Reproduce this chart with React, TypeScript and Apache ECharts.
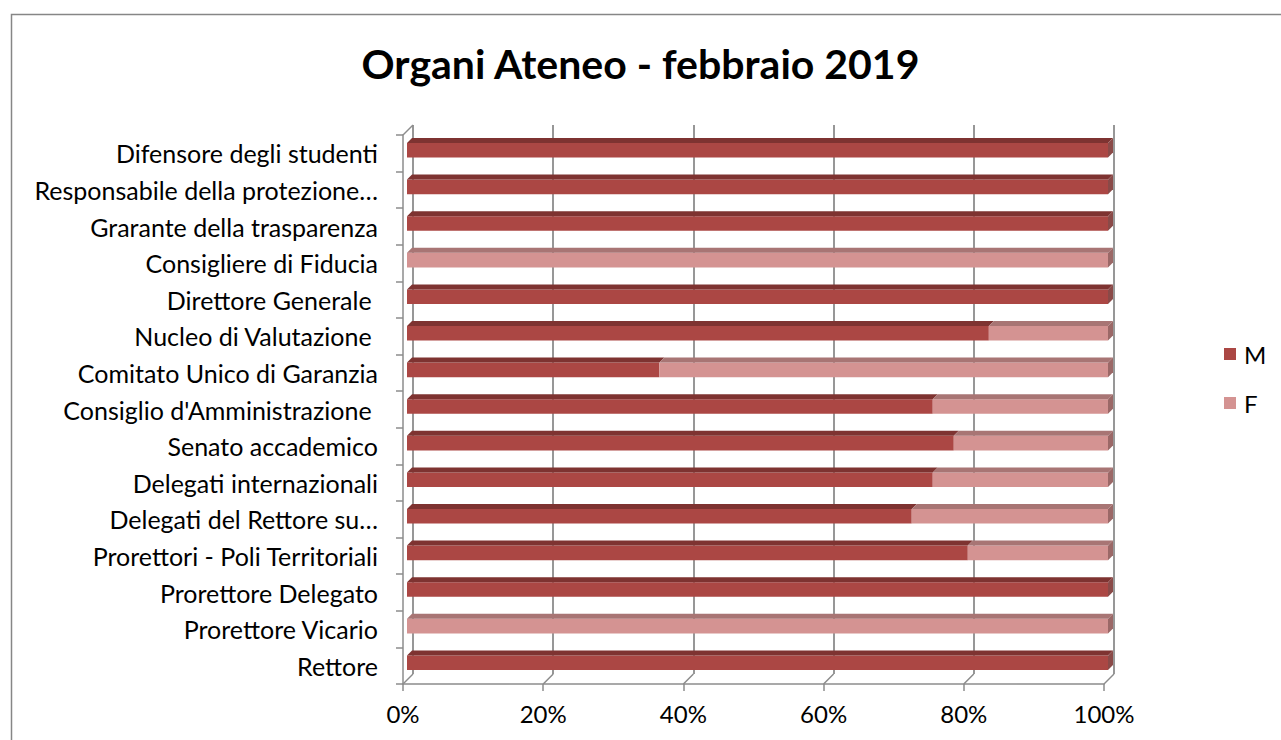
import React, { useEffect, useRef } from "react";
import * as echarts from "echarts";

// Categories listed bottom-to-top (ECharts category axis order)
const categories: string[] = [
  "Rettore",
  "Prorettore Vicario",
  "Prorettore Delegato",
  "Prorettori - Poli Territoriali",
  "Delegati del Rettore su…",
  "Delegati internazionali",
  "Senato accademico",
  "Consiglio d'Amministrazione ",
  "Comitato Unico di Garanzia",
  "Nucleo di Valutazione ",
  "Direttore Generale ",
  "Consigliere di Fiducia",
  "Grarante della trasparenza",
  "Responsabile della protezione…",
  "Difensore degli studenti",
];

// Share (%) of men per body
const mValues: number[] = [100, 0, 100, 80, 72, 75, 78, 75, 36, 83, 100, 0, 100, 100, 100];
// Share (%) of women per body
const fValues: number[] = [0, 100, 0, 20, 28, 25, 22, 25, 64, 17, 0, 100, 0, 0, 0];

const xTicks: number[] = [0, 20, 40, 60, 80, 100];

const FONT = "Lato";

export default function App() {
  const ref = useRef<HTMLDivElement>(null);

  useEffect(() => {
    if (!ref.current) return;
    const chart = echarts.init(ref.current, undefined, { renderer: "svg" });

    const makeRender =
      (front: string, top: string, side: string) => (params: any, api: any) => {
        const s = api.value(0);
        const e = api.value(1);
        const c = api.value(2);
        if (e - s <= 0) return { type: "group", children: [] };
        const p0 = api.coord([s, c]);
        const p1 = api.coord([e, c]);
        const band = api.size([0, 1])[1];
        const h = band * 0.4;
        const dx = 4;
        const dy = -3;
        const d = 5;
        const x0 = p0[0] + dx;
        const x1 = p1[0] + dx;
        const yc = p0[1] + dy;
        const yt = yc - h / 2;
        const yb = yc + h / 2;
        const children: any[] = [
          {
            type: "rect",
            shape: { x: x0, y: yt, width: x1 - x0, height: h },
            style: { fill: front },
          },
          {
            type: "polygon",
            shape: {
              points: [
                [x0, yt],
                [x0 + d, yt - d],
                [x1 + d, yt - d],
                [x1, yt],
              ],
            },
            style: { fill: top },
          },
        ];
        if (e >= 100) {
          children.push({
            type: "polygon",
            shape: {
              points: [
                [x1, yt],
                [x1 + d, yt - d],
                [x1 + d, yb - d],
                [x1, yb],
              ],
            },
            style: { fill: side },
          });
        }
        return { type: "group", children };
      };

    const mData = categories.map((_, i) => [0, mValues[i], i]);
    const fData = categories.map((_, i) => [mValues[i], mValues[i] + fValues[i], i]);
    const floorData = xTicks.map((v) => [v, 0]);

    const gridColor = "#8c8c8c";

    chart.setOption({
      animation: false,
      backgroundColor: "#ffffff",
      title: {
        text: "Organi Ateneo - febbraio 2019",
        left: "center",
        top: 38,
        textStyle: { fontFamily: FONT, fontSize: 41, fontWeight: "bold", color: "#000" },
      },
      legend: {
        orient: "vertical",
        left: 1219,
        top: 337,
        itemWidth: 12,
        itemHeight: 12,
        itemGap: 25,
        icon: "rect",
        data: ["M", "F"],
        textStyle: { fontFamily: FONT, fontSize: 24, color: "#000", padding: [0, 0, 0, 3] },
      },
      graphic: [
        {
          type: "rect",
          left: 9,
          top: 12,
          shape: { width: 1400, height: 900 },
          style: { fill: "none", stroke: "#868686", lineWidth: 1.5 },
          silent: true,
          z: -10,
        },
      ],
      grid: [
        { left: 403, right: 177, top: 135, bottom: 56 },
        { left: 413, right: 167, top: 125, bottom: 66 },
      ],
      xAxis: [
        {
          type: "value",
          gridIndex: 0,
          min: 0,
          max: 100,
          interval: 20,
          axisLine: { show: true, lineStyle: { color: gridColor, width: 1.5 } },
          axisTick: { show: true, length: 7, lineStyle: { color: gridColor, width: 1.5 } },
          splitLine: { show: false },
          axisLabel: {
            formatter: "{value}%",
            fontFamily: FONT,
            fontSize: 24,
            color: "#000",
            margin: 17,
          },
        },
        {
          type: "value",
          gridIndex: 1,
          min: 0,
          max: 100,
          interval: 20,
          axisLine: { show: false },
          axisTick: { show: false },
          axisLabel: { show: false },
          splitLine: { show: true, lineStyle: { color: gridColor, width: 1.8 } },
        },
      ],
      yAxis: [
        {
          type: "category",
          gridIndex: 0,
          data: categories,
          axisLine: { show: true, lineStyle: { color: gridColor, width: 1.5 } },
          axisTick: { show: true, length: 7, lineStyle: { color: gridColor, width: 1.5 } },
          axisLabel: { fontFamily: FONT, fontSize: 25, color: "#000", margin: 25 },
        },
        {
          type: "category",
          gridIndex: 1,
          data: categories,
          show: false,
        },
      ],
      series: [
        {
          name: "floor",
          type: "custom",
          xAxisIndex: 0,
          yAxisIndex: 0,
          silent: true,
          z: 1,
          data: floorData,
          renderItem: (params: any, api: any) => {
            const v = api.value(0);
            const p = api.coord([v, 0]);
            const band = api.size([0, 1])[1];
            const yb = p[1] + band / 2;
            const children: any[] = [
              {
                type: "line",
                shape: { x1: p[0], y1: yb, x2: p[0] + 10, y2: yb - 10 },
                style: { stroke: gridColor, lineWidth: 1.5 },
              },
            ];
            if (v === 0) {
              const pt = api.coord([0, categories.length - 1]);
              const ytop = pt[1] - band / 2;
              children.push({
                type: "line",
                shape: { x1: pt[0], y1: ytop, x2: pt[0] + 10, y2: ytop - 10 },
                style: { stroke: gridColor, lineWidth: 1.5 },
              });
            }
            return { type: "group", children };
          },
        },
        {
          name: "M",
          type: "custom",
          xAxisIndex: 0,
          yAxisIndex: 0,
          z: 3,
          itemStyle: { color: "#ab4744" },
          encode: { x: [0, 1], y: 2 },
          data: mData,
          renderItem: makeRender("#ab4744", "#7e3331", "#8a4a48"),
        },
        {
          name: "F",
          type: "custom",
          xAxisIndex: 0,
          yAxisIndex: 0,
          z: 3,
          itemStyle: { color: "#d49392" },
          encode: { x: [0, 1], y: 2 },
          data: fData,
          renderItem: makeRender("#d49392", "#a87574", "#9b6867"),
        },
      ],
    });

    return () => chart.dispose();
  }, []);

  return (
    <div
      ref={ref}
      style={{ position: "absolute", left: 0, top: 0, width: 1281, height: 740 }}
    />
  );
}
